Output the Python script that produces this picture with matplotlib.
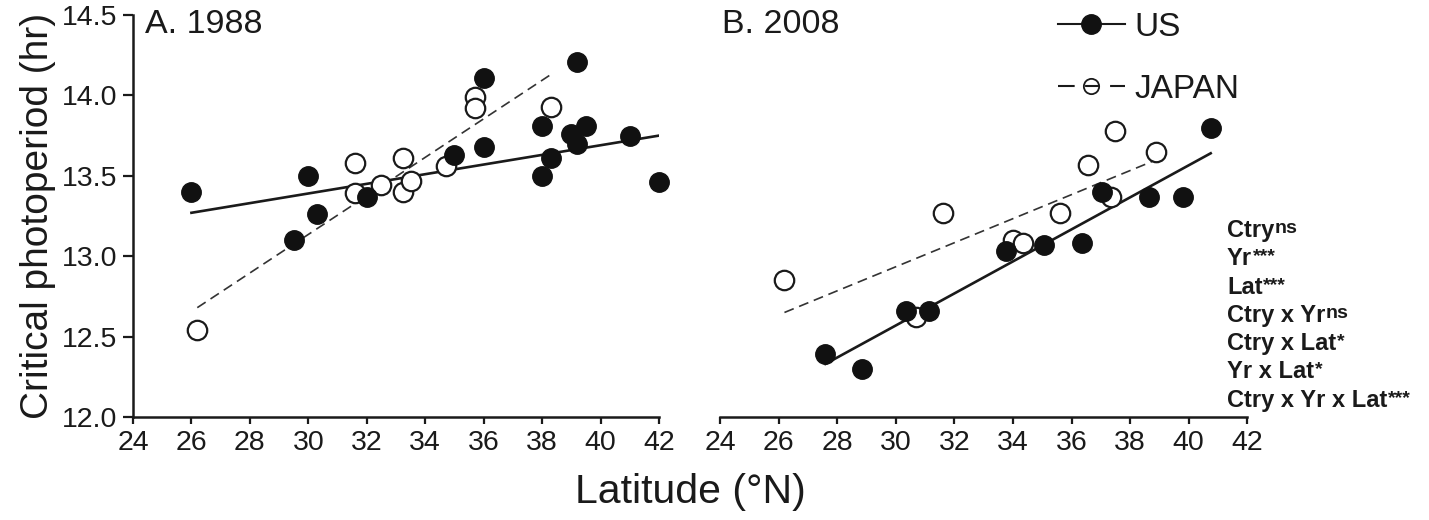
import matplotlib
matplotlib.use('Agg')
import matplotlib.pyplot as plt
from matplotlib.lines import Line2D

# 1988 data
us88_lat = [26.0, 29.5, 30.0, 30.3, 32.0, 35.0, 36.0, 36.0, 38.0, 38.0, 38.3, 39.0, 39.2, 39.2, 39.5, 41.0, 42.0]
us88_cp = [13.40, 13.10, 13.50, 13.26, 13.37, 13.63, 14.11, 13.68, 13.81, 13.50, 13.61, 13.76, 14.21, 13.70, 13.81, 13.75, 13.46]
jp88_lat = [26.2, 31.6, 31.6, 32.5, 33.25, 33.25, 33.5, 34.7, 35.7, 35.7, 38.3]
jp88_cp = [12.54, 13.58, 13.39, 13.44, 13.61, 13.40, 13.47, 13.56, 13.99, 13.92, 13.93]
us88_fit_lat = [26.0, 42.0]
us88_fit_cp = [13.27, 13.75]
jp88_fit_lat = [26.2, 38.3]
jp88_fit_cp = [12.68, 14.13]

# 2008 data
us08_lat = [27.6, 28.85, 30.35, 31.15, 33.75, 35.05, 36.35, 37.05, 38.65, 39.8, 40.75]
us08_cp = [12.39, 12.30, 12.66, 12.66, 13.03, 13.07, 13.08, 13.40, 13.37, 13.37, 13.80]
jp08_lat = [26.2, 30.7, 31.6, 34.0, 34.35, 35.6, 36.55, 37.35, 37.5, 38.9]
jp08_cp = [12.85, 12.62, 13.27, 13.10, 13.08, 13.27, 13.57, 13.37, 13.78, 13.65]
us08_fit_lat = [27.6, 40.75]
us08_fit_cp = [12.33, 13.64]
jp08_fit_lat = [26.2, 38.9]
jp08_fit_cp = [12.65, 13.60]

x_ticks = [24, 26, 28, 30, 32, 34, 36, 38, 40, 42]
y_ticks = [12.0, 12.5, 13.0, 13.5, 14.0, 14.5]
panel_titles = ['A. 1988', 'B. 2008']
stats_terms = ['Ctry', 'Yr', 'Lat', 'Ctry x Yr', 'Ctry x Lat', 'Yr x Lat', 'Ctry x Yr x Lat']
stats_sig = ['ns', '***', '***', 'ns', '*', '*', '***']

plt.rcParams['font.family'] = ['Liberation Sans', 'DejaVu Sans']

W, H = 1429, 520
fig = plt.figure(figsize=(W / 100, H / 100), dpi=100)
ax1 = fig.add_axes([133 / W, 1 - 417 / H, 526 / W, 402 / H])
ax2 = fig.add_axes([720 / W, 1 - 417 / H, 527.3 / W, 402 / H])

ms = 14
panels = [
    (ax1, us88_lat, us88_cp, jp88_lat, jp88_cp, us88_fit_lat, us88_fit_cp, jp88_fit_lat, jp88_fit_cp),
    (ax2, us08_lat, us08_cp, jp08_lat, jp08_cp, us08_fit_lat, us08_fit_cp, jp08_fit_lat, jp08_fit_cp),
]
for ax, ul, uc, jl, jc, ufl, ufc, jfl, jfc in panels:
    ax.plot(ufl, ufc, color='#1a1a1a', lw=1.9, zorder=2)
    ax.plot(jfl, jfc, color='#333333', lw=1.2, linestyle=(0, (6, 3.5)), zorder=2)
    ax.plot(jl, jc, linestyle='none', marker='o', ms=ms, mfc='white', mec='#1a1a1a', mew=1.6,
            zorder=3, clip_on=False)
    ax.plot(ul, uc, linestyle='none', marker='o', ms=ms, mfc='#111111', mec='#111111', mew=1,
            zorder=4, clip_on=False)
    ax.set_xlim(24, 42)
    ax.set_ylim(12.0, 14.5)
    ax.set_xticks(x_ticks)
    ax.tick_params(axis='both', direction='out', width=1.6, labelsize=20.5, colors='#1a1a1a')
    ax.tick_params(axis='x', length=5, pad=4)
    ax.tick_params(axis='y', length=7, pad=4)
    for s in ['top', 'right']:
        ax.spines[s].set_visible(False)
    for s in ['left', 'bottom']:
        ax.spines[s].set_linewidth(1.8)
        ax.spines[s].set_color('#1a1a1a')

ax1.set_yticks(y_ticks)
ax1.set_yticklabels(['%.1f' % v for v in y_ticks])
ax2.spines['left'].set_visible(False)
ax2.set_yticks([])

fig.text(145 / W, 1 - 24 / H, panel_titles[0], fontsize=24.5, va='center', ha='left', color='#1a1a1a')
fig.text(722 / W, 1 - 24 / H, panel_titles[1], fontsize=24.5, va='center', ha='left', color='#1a1a1a')

fig.text(690 / W, 1 - 492 / H, 'Latitude (°N)', fontsize=29.5, ha='center', va='center', color='#1a1a1a')
fig.text(38 / W, 1 - 216 / H, 'Critical photoperiod (hr)', fontsize=28, rotation=90,
         ha='center', va='center', color='#1a1a1a')

handles = [
    Line2D([], [], color='#1a1a1a', lw=1.5, marker='o', ms=14, mfc='#111111', mec='#111111'),
    Line2D([], [], color='#1a1a1a', lw=1.5, linestyle=(0, (8, 5, 7, 5, 8, 100)), marker='o', ms=11,
           mfc='none', mec='#1a1a1a', mew=1.3),
]
fig.legend(handles, ['US', 'JAPAN'], loc='upper left', bbox_to_anchor=(1058 / W, 1 - 12 / H),
           frameon=False, fontsize=24, handlelength=2.0, handletextpad=0.3, labelspacing=0.92,
           borderpad=0, borderaxespad=0, labelcolor='#1a1a1a')

# stats terms with superscript significance
renderer = fig.canvas.get_renderer()
for i, (term, sig) in enumerate(zip(stats_terms, stats_sig)):
    yb = 1 - (237 + i * 28.3) / H
    t = fig.text(1227 / W, yb, term, fontsize=17, fontweight='bold', ha='left', va='baseline',
                 color='#1a1a1a')
    bb = t.get_window_extent(renderer)
    fig.text(bb.x1 / W + 0.0004, yb + 4 / H, sig, fontsize=14, fontweight='bold', ha='left',
             va='baseline', color='#1a1a1a')

fig.savefig('out.png', dpi=100)
